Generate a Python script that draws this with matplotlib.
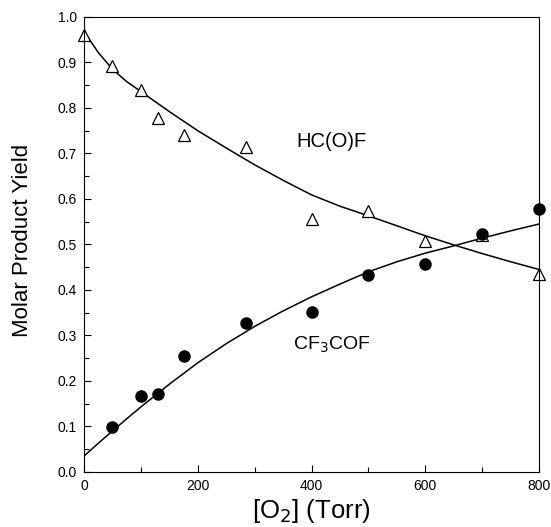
import matplotlib
matplotlib.use("Agg")
import matplotlib.pyplot as plt
from matplotlib.ticker import MultipleLocator, FormatStrFormatter

# measured yields
o2_hcof = [0, 50, 100, 130, 175, 285, 400, 500, 600, 700, 800]
hcof = [0.96, 0.892, 0.84, 0.778, 0.74, 0.714, 0.555, 0.573, 0.508, 0.52, 0.435]

o2_cf3cof = [50, 100, 130, 175, 285, 400, 500, 600, 700, 800]
cf3cof = [0.098, 0.168, 0.172, 0.255, 0.328, 0.352, 0.432, 0.458, 0.522, 0.577]

# fitted curves
o2_fit = [0, 25, 50, 75, 100, 150, 200, 250, 300, 350, 400, 450, 500, 550, 600, 650, 700, 750, 800]
hcof_fit = [0.968, 0.922, 0.885, 0.858, 0.836, 0.792, 0.750, 0.712, 0.675, 0.641, 0.609,
            0.584, 0.563, 0.541, 0.519, 0.499, 0.480, 0.462, 0.445]
cf3cof_fit = [0.035, 0.063, 0.090, 0.117, 0.143, 0.193, 0.240, 0.282, 0.320, 0.354, 0.385,
              0.413, 0.440, 0.462, 0.481, 0.497, 0.514, 0.530, 0.545]

plt.rcParams["font.family"] = ["Liberation Sans", "DejaVu Sans"]

fig = plt.figure(figsize=(5.51, 5.27), dpi=100)
ax = fig.add_axes([0.1525, 0.1044, 0.826, 0.8634])

ax.plot(o2_fit, hcof_fit, color="black", lw=1.1)
ax.plot(o2_fit, cf3cof_fit, color="black", lw=1.1)
ax.plot(o2_hcof, hcof, linestyle="none", marker="^", markersize=8,
        markerfacecolor="white", markeredgecolor="black", markeredgewidth=0.9, clip_on=False)
ax.plot(o2_cf3cof, cf3cof, linestyle="none", marker="o", markersize=8,
        color="black", clip_on=False)

ax.text(374, 0.727, "HC(O)F", fontsize=14.5, va="center")
ax.text(367, 0.28, "CF$_3$COF", fontsize=14, va="center")

ax.set_xlim(0, 800)
ax.set_ylim(0, 1.0)
ax.xaxis.set_major_locator(MultipleLocator(200))
ax.xaxis.set_minor_locator(MultipleLocator(100))
ax.yaxis.set_major_locator(MultipleLocator(0.1))
ax.yaxis.set_minor_locator(MultipleLocator(0.05))
ax.yaxis.set_major_formatter(FormatStrFormatter("%.1f"))
ax.tick_params(which="major", direction="in", length=5, width=0.8, labelsize=10, pad=5)
ax.tick_params(which="minor", direction="in", length=3.5, width=0.8)

ax.set_xlabel("[O$_2$] (Torr)", fontsize=18.5, labelpad=3)
ax.set_ylabel("Molar Product Yield", fontsize=16)
ax.yaxis.set_label_coords(-0.112, 0.508)

fig.savefig("out.png", dpi=100)
